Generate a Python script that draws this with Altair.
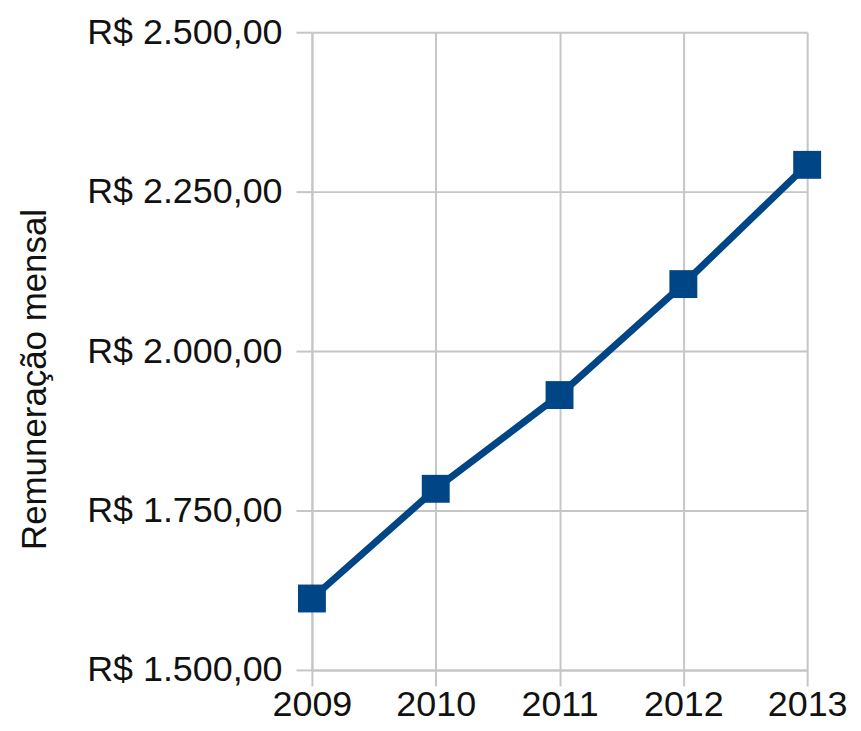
import altair as alt
import pandas as pd

anos = ["2009", "2010", "2011", "2012", "2013"]
remuneracao = [1612, 1784, 1931, 2105, 2292]
y_ticks = [1500, 1750, 2000, 2250, 2500]

df = pd.DataFrame({"Ano": anos, "Remuneracao": remuneracao})

GRID = "#c6c6c6"
BLUE = "#004586"
FONT = "Liberation Sans"
FS = 36

label_expr = ("'R$ ' + replace(replace(replace(format(datum.value, ',.2f'), ',', '#'), '.', ','), '#', '.')")

x = alt.X("Ano:O", sort=anos,
          scale=alt.Scale(type="point", padding=0),
          axis=alt.Axis(title=None, labelAngle=0, labelFontSize=FS, labelFont=FONT,
                        labelColor="#111111", tickSize=16, tickColor=GRID, tickWidth=2,
                        domainColor=GRID, domainWidth=2, grid=True, gridColor=GRID,
                        gridWidth=2, labelPadding=2, labelLimit=0))
y = alt.Y("Remuneracao:Q",
          scale=alt.Scale(domain=[1500, 2500], nice=False, zero=False),
          axis=alt.Axis(title="Remuneração mensal", values=y_ticks, labelExpr=label_expr,
                        labelFontSize=FS, labelFont=FONT, labelColor="#111111",
                        labelLimit=0,
                        titleFontSize=35, titleFont=FONT, titleFontWeight="normal",
                        titleColor="#111111", titlePadding=60, titleY=348,
                        tickSize=16, tickColor=GRID, tickWidth=2, domainColor=GRID,
                        domainWidth=2, grid=True, gridColor=GRID, gridWidth=2,
                        labelPadding=14))

base = alt.Chart(df)
line = base.mark_line(color=BLUE, strokeWidth=7).encode(x=x, y=y)
pts = base.mark_point(shape="square", filled=True, color=BLUE, size=784, opacity=1).encode(x=x, y=y)

chart = (line + pts).properties(
    width=497, height=640,
    padding={"left": 10, "top": 5, "right": 5, "bottom": 5},
).configure_view(stroke=None)

chart.save("out.html", embed_options={"renderer": "svg", "actions": False})
